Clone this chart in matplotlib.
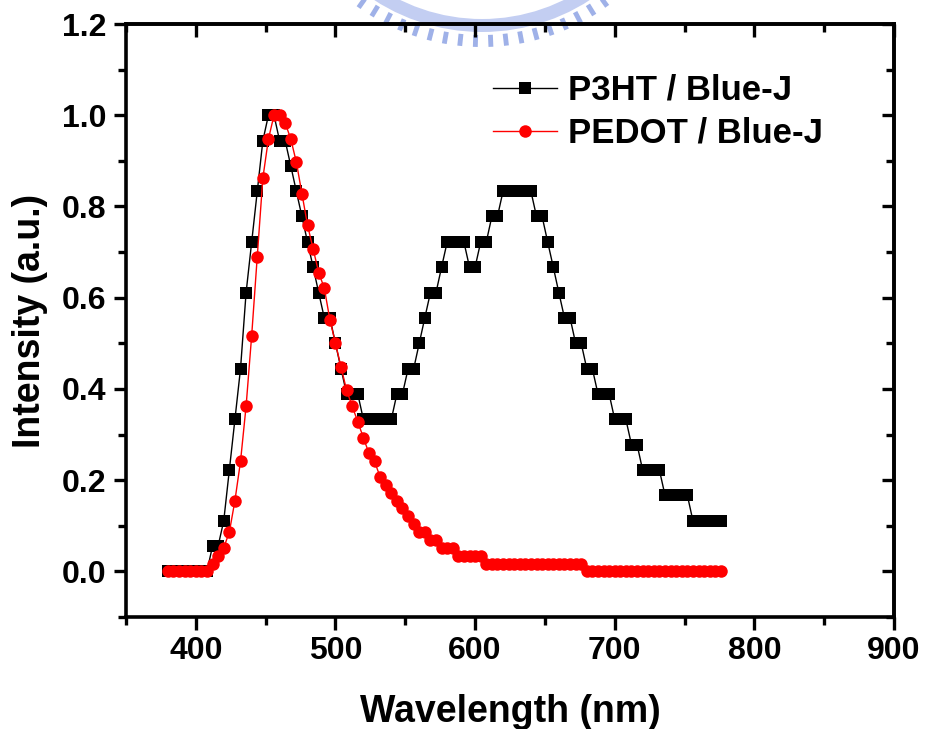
import numpy as np
import matplotlib
matplotlib.use("Agg")
import matplotlib.pyplot as plt
from matplotlib.patches import Wedge
from matplotlib.ticker import MultipleLocator

plt.rcParams['font.family'] = ['Liberation Sans', 'DejaVu Sans']
plt.rcParams['font.weight'] = 'bold'

# wavelength grid (nm)
wavelength = [380, 384, 388, 392, 396, 400, 404, 408, 412, 416,
              420, 424, 428, 432, 436, 440, 444, 448, 452, 456,
              460, 464, 468, 472, 476, 480, 484, 488, 492, 496,
              500, 504, 508, 512, 516, 520, 524, 528, 532, 536,
              540, 544, 548, 552, 556, 560, 564, 568, 572, 576,
              580, 584, 588, 592, 596, 600, 604, 608, 612, 616,
              620, 624, 628, 632, 636, 640, 644, 648, 652, 656,
              660, 664, 668, 672, 676, 680, 684, 688, 692, 696,
              700, 704, 708, 712, 716, 720, 724, 728, 732, 736,
              740, 744, 748, 752, 756, 760, 764, 768, 772, 776]

# normalized EL intensity, P3HT / Blue-J
p3ht = [0.0, 0.0, 0.0, 0.0, 0.0, 0.0, 0.0, 0.0, 0.056, 0.056,
        0.111, 0.222, 0.333, 0.444, 0.611, 0.722, 0.833, 0.944, 1.0, 1.0,
        0.944, 0.944, 0.889, 0.833, 0.778, 0.722, 0.667, 0.611, 0.556, 0.556,
        0.5, 0.444, 0.389, 0.389, 0.389, 0.333, 0.333, 0.333, 0.333, 0.333,
        0.333, 0.389, 0.389, 0.444, 0.444, 0.5, 0.556, 0.611, 0.611, 0.667,
        0.722, 0.722, 0.722, 0.722, 0.667, 0.667, 0.722, 0.722, 0.778, 0.778,
        0.833, 0.833, 0.833, 0.833, 0.833, 0.833, 0.778, 0.778, 0.722, 0.667,
        0.611, 0.556, 0.556, 0.5, 0.5, 0.444, 0.444, 0.389, 0.389, 0.389,
        0.333, 0.333, 0.333, 0.278, 0.278, 0.222, 0.222, 0.222, 0.222, 0.167,
        0.167, 0.167, 0.167, 0.167, 0.111, 0.111, 0.111, 0.111, 0.111, 0.111]

# normalized EL intensity, PEDOT / Blue-J
pedot = [0.0, 0.0, 0.0, 0.0, 0.0, 0.0, 0.0, 0.0, 0.017, 0.034,
         0.052, 0.086, 0.155, 0.241, 0.362, 0.517, 0.690, 0.862, 0.948, 1.0,
         1.0, 0.983, 0.948, 0.897, 0.828, 0.759, 0.707, 0.655, 0.621, 0.552,
         0.500, 0.448, 0.397, 0.362, 0.328, 0.293, 0.259, 0.241, 0.207, 0.190,
         0.172, 0.155, 0.138, 0.121, 0.103, 0.086, 0.086, 0.069, 0.069, 0.052,
         0.052, 0.052, 0.034, 0.034, 0.034, 0.034, 0.034, 0.017, 0.017, 0.017,
         0.017, 0.017, 0.017, 0.017, 0.017, 0.017, 0.017, 0.017, 0.017, 0.017,
         0.017, 0.017, 0.017, 0.017, 0.017, 0.0, 0.0, 0.0, 0.0, 0.0,
         0.0, 0.0, 0.0, 0.0, 0.0, 0.0, 0.0, 0.0, 0.0, 0.0,
         0.0, 0.0, 0.0, 0.0, 0.0, 0.0, 0.0, 0.0, 0.0, 0.0]

labels = ['P3HT / Blue-J', 'PEDOT / Blue-J']

fig = plt.figure(figsize=(9.27, 7.29), dpi=100)

# background layer in pixel units for the faint logo at the top
bg = fig.add_axes([0, 0, 1, 1], zorder=0)
bg.set_xlim(0, 927)
bg.set_ylim(729, 0)
bg.axis('off')
bg.add_patch(Wedge((482, -166), 198, 52, 128, width=13,
                   facecolor='#c3cef2', edgecolor='none'))
for ang in np.arange(54, 127, 4.2):
    t = np.deg2rad(ang)
    bg.plot([482 + 201 * np.cos(t), 482 + 213 * np.cos(t)],
            [-166 + 201 * np.sin(t), -166 + 213 * np.sin(t)],
            color='#9fb1e8', lw=3.5, solid_capstyle='butt')

ax = fig.add_axes([126 / 927, 1 - 617 / 729, 768 / 927, 593 / 729], zorder=1)
ax.patch.set_alpha(0)

ax.plot(wavelength, p3ht, color='black', lw=1.0, marker='s', ms=8.5,
        markeredgewidth=0, label=labels[0])
ax.plot(wavelength, pedot, color='red', lw=1.0, marker='o', ms=9,
        markeredgewidth=0, label=labels[1])

ax.set_xlim(350, 900)
ax.set_ylim(-0.1, 1.2)
ax.xaxis.set_minor_locator(MultipleLocator(50))
ax.yaxis.set_minor_locator(MultipleLocator(0.1))
ax.set_xticks([400, 500, 600, 700, 800, 900])
ax.set_yticks([0.0, 0.2, 0.4, 0.6, 0.8, 1.0, 1.2])
ax.yaxis.set_major_formatter(plt.FormatStrFormatter('%.1f'))

for s in ax.spines.values():
    s.set_linewidth(2.6)

ax.tick_params(which='major', direction='out', length=9, width=2.4,
               labelsize=23, pad=5)
ax.tick_params(which='minor', direction='out', length=5.5, width=2.4)

# mirrored ticks pointing inward on top and right
top = ax.secondary_xaxis('top')
top.xaxis.set_major_locator(MultipleLocator(100))
top.xaxis.set_minor_locator(MultipleLocator(50))
top.tick_params(which='major', direction='in', length=9, width=2.4, labeltop=False)
top.tick_params(which='minor', direction='in', length=5.5, width=2.4)
right = ax.secondary_yaxis('right')
right.yaxis.set_major_locator(MultipleLocator(0.2))
right.yaxis.set_minor_locator(MultipleLocator(0.1))
right.tick_params(which='major', direction='in', length=9, width=2.4, labelright=False)
right.tick_params(which='minor', direction='in', length=5.5, width=2.4)
for a in (top, right):
    for s in a.spines.values():
        s.set_linewidth(2.6)

ax.set_xlabel('Wavelength (nm)', fontsize=27, fontweight='bold')
ax.set_ylabel('Intensity (a.u.)', fontsize=27, fontweight='bold')
ax.xaxis.set_label_coords(0.5, -0.13)
ax.yaxis.set_label_coords(-0.102, 0.5)

ax.legend(loc='upper left', bbox_to_anchor=(493 / 927, 1 - 74 / 729),
          bbox_transform=fig.transFigure, frameon=False,
          handlelength=1.85, handletextpad=0.3, labelspacing=0.28,
          borderpad=0, borderaxespad=0, prop={'weight': 'bold', 'size': 25})

fig.savefig('out.png', dpi=100)
